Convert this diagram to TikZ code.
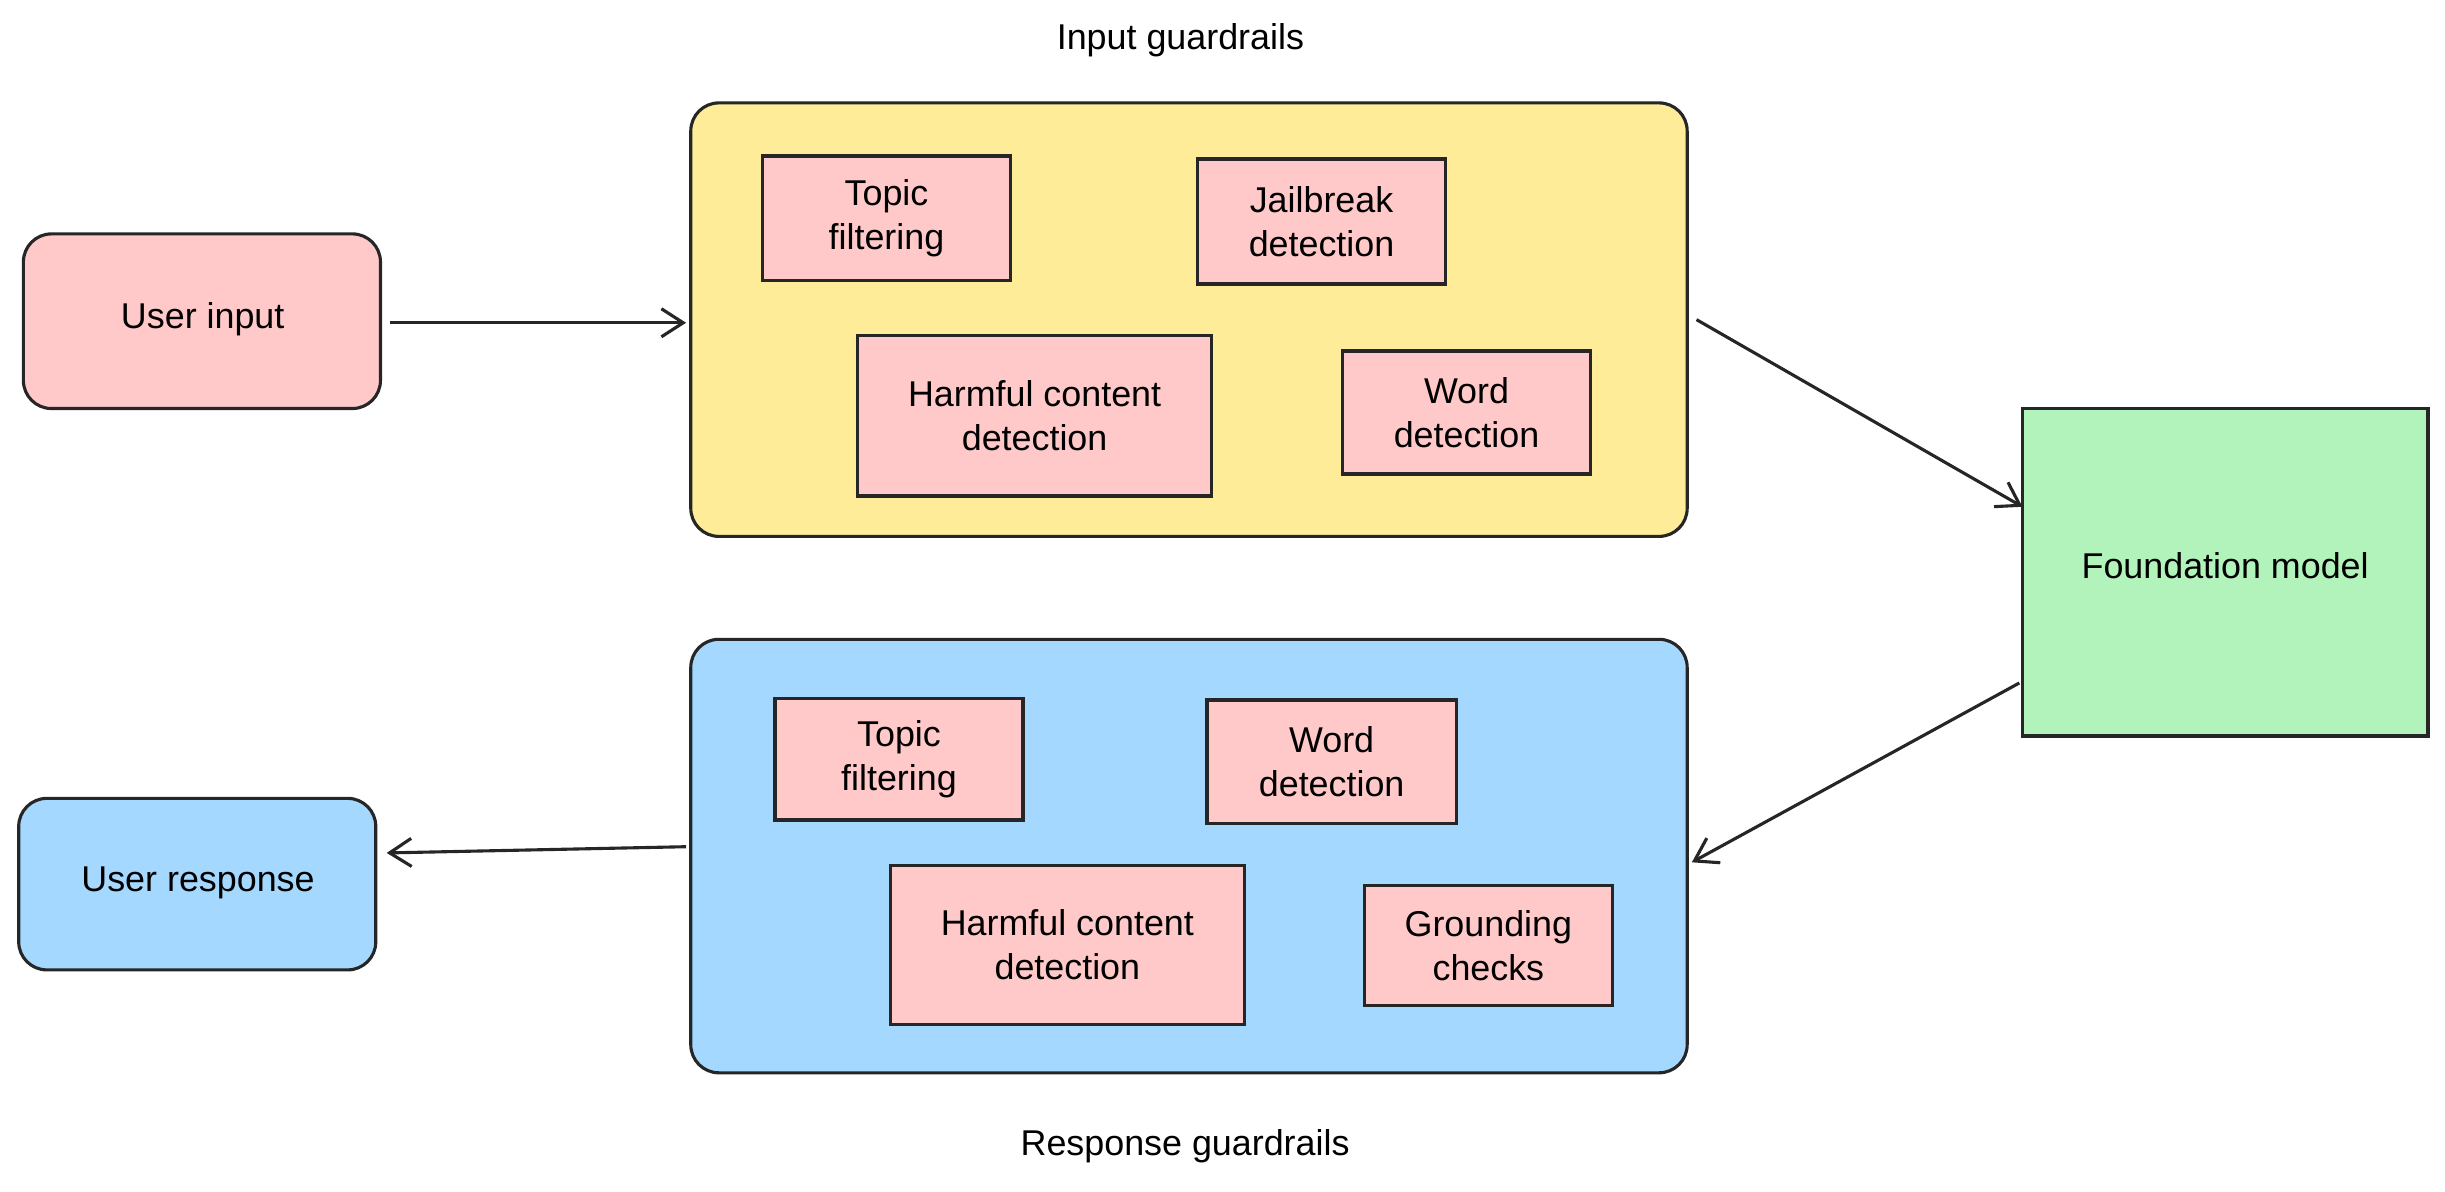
\documentclass[tikz,border=0pt]{standalone}
\usepackage{fontspec}
\setmainfont{Liberation Sans}
\usetikzlibrary{positioning,arrows.meta}
\definecolor{pinkfill}{HTML}{FFC9C9}
\definecolor{yellowfill}{HTML}{FFEC99}
\definecolor{greenfill}{HTML}{B2F2BB}
\definecolor{bluefill}{HTML}{A5D8FF}
\begin{document}
\begin{tikzpicture}[x=0.5pt,y=0.5pt,yscale=-1,xscale=1,
    box/.style={draw=black!85,line width=1pt,rounded corners=9pt},
    guard/.style={draw=black!85,line width=1.1pt,fill=pinkfill,align=center,font=\fontsize{11.5}{14}\selectfont},
    conn/.style={draw=black!85,line width=1pt,-{Straight Barb[length=7pt,width=9pt]}},
    lbl/.style={font=\fontsize{11.5}{14}\selectfont}]
    \useasboundingbox (0,0) rectangle (1568,764);
    %outer boxes
    \draw[box,fill=yellowfill] (443,66) rectangle (1082,344);
    \draw[box,fill=bluefill] (443,410) rectangle (1082,688);
    \draw[box,fill=pinkfill] (15,150) rectangle (244,262);
    \draw[box,fill=bluefill] (12,512) rectangle (241,622);
    \draw[draw=black!85,line width=1.1pt,fill=greenfill] (1297,262) rectangle (1557,472);
    % Text Nodes
    \node[lbl] (inlabel) at (757,26) {Input guardrails};
    \node[lbl] (outlabel) at (760,735) {Response guardrails};
    \node[lbl] (userin) at (130,205) {User input};
    \node[lbl] (userout) at (127,566) {User response};
    \node[lbl] (model) at (1427,363) {Foundation model};
    %input checks
    \node[guard,minimum width=79.5pt,minimum height=40pt] (itopic) at (568.5,140) {Topic\\filtering};
    \node[guard,minimum width=79.5pt,minimum height=40pt] (ijail) at (847.5,142) {Jailbreak\\detection};
    \node[guard,minimum width=113.5pt,minimum height=51.5pt] (iharm) at (663.5,266.5) {Harmful content\\detection};
    \node[guard,minimum width=79.5pt,minimum height=39.5pt] (iword) at (940.5,264.5) {Word\\detection};
    %response checks
    \node[guard,minimum width=79.5pt,minimum height=39pt] (otopic) at (576.5,487) {Topic\\filtering};
    \node[guard,minimum width=80pt,minimum height=39.5pt] (oword) at (854,488.5) {Word\\detection};
    \node[guard,minimum width=113.5pt,minimum height=51pt] (oharm) at (684.5,606) {Harmful content\\detection};
    \node[guard,minimum width=79.5pt,minimum height=38.5pt] (oground) at (954.5,606.5) {Grounding\\checks};
    %connectors
    \coordinate (a1) at (250,207); \coordinate (a2) at (440,207);
    \coordinate (b1) at (1088,205); \coordinate (b2) at (1297,325);
    \coordinate (c1) at (1295,438); \coordinate (c2) at (1085,553);
    \coordinate (d1) at (440,543); \coordinate (d2) at (248,547);
    \draw[conn] (a1) -- (a2);
    \draw[conn] (b1) -- (b2);
    \draw[conn] (c1) -- (c2);
    \draw[conn] (d1) -- (d2);
\end{tikzpicture}
\end{document}
